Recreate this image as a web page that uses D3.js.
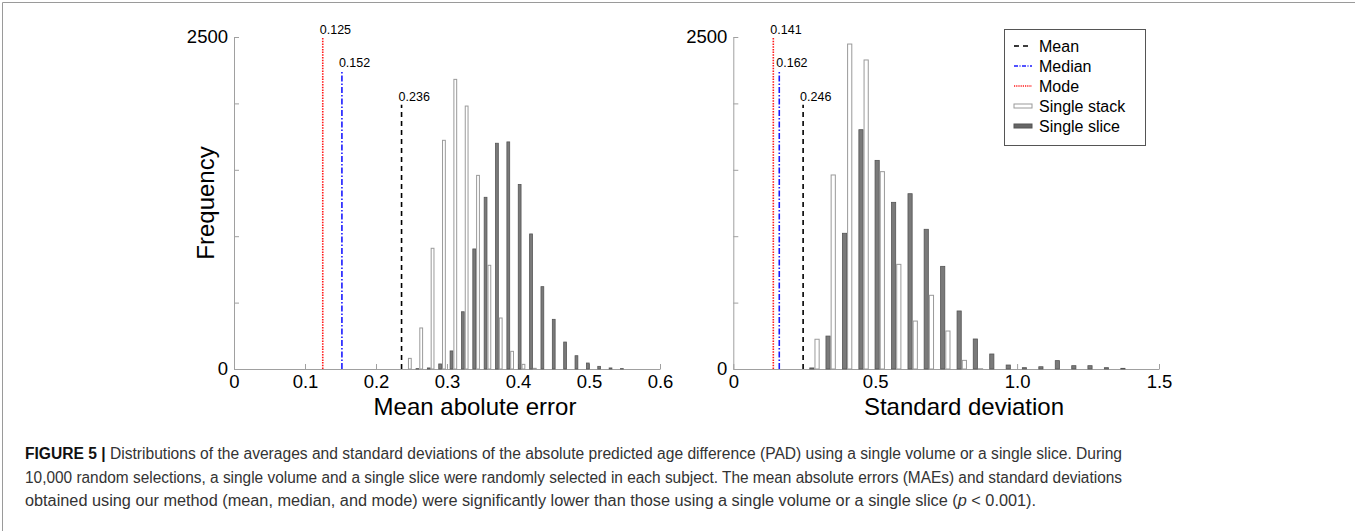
<!DOCTYPE html>
<html>
<head>
<meta charset="utf-8">
<script src="https://cdn.jsdelivr.net/npm/d3@7"></script>
<style>
  body { margin: 0; background: #fff; }
  svg text { font-family: 'Liberation Sans', Arial, sans-serif; }
</style>
</head>
<body>
<div id="figure"></div>
<script>

// ---- data ----
const yTicks = [0, 500, 1000, 1500, 2000, 2500];

// left panel: mean absolute error
const maeTicks = [0, 0.1, 0.2, 0.3, 0.4, 0.5, 0.6];
const maeBins  = [0.245, 0.261, 0.277, 0.293, 0.309, 0.325, 0.341, 0.357, 0.373, 0.389,
                  0.405, 0.421, 0.437, 0.453, 0.469, 0.485, 0.501, 0.517, 0.533, 0.549];
const maeStack = [80, 309, 909, 1722, 2181, 1980, 1458, 781, 384, 133,
                  35, 5, 0, 0, 0, 0, 0, 0, 0, 0];
const maeSlice = [0, 3, 8, 38, 136, 431, 904, 1293, 1700, 1710,
                  1390, 1017, 620, 374, 203, 100, 45, 20, 8, 3];
const maeStats = [
  {name: 'Mode',   value: 0.125, top: 2500},
  {name: 'Median', value: 0.152, top: 2250},
  {name: 'Mean',   value: 0.236, top: 1990}
];

// right panel: standard deviation
const sdTicks = [0, 0.5, 1.0, 1.5];
const sdBins  = [0.286, 0.343, 0.401, 0.459, 0.516, 0.574, 0.632, 0.689, 0.747, 0.805,
                 0.862, 0.920, 0.978, 1.035, 1.093, 1.151, 1.209, 1.266, 1.324, 1.382];
const sdStack = [224, 1461, 2447, 2327, 1486, 788, 361, 555, 286, 65,
                 2, 0, 0, 0, 0, 0, 0, 0, 0, 0];
const sdSlice = [8, 248, 1022, 1802, 1571, 1255, 1320, 1052, 773, 437,
                 226, 113, 30, 10, 17, 63, 25, 25, 10, 5];
const sdStats = [
  {name: 'Mode',   value: 0.141, top: 2500},
  {name: 'Median', value: 0.162, top: 2250},
  {name: 'Mean',   value: 0.246, top: 1990}
];

const legendItems = ['Mean', 'Median', 'Mode', 'Single stack', 'Single slice'];

const captionLines = [
  'Distributions of the averages and standard deviations of the absolute predicted age difference (PAD) using a single volume or a single slice. During',
  '10,000 random selections, a single volume and a single slice were randomly selected in each subject. The mean absolute errors (MAEs) and standard deviations',
  'obtained using our method (mean, median, and mode) were significantly lower than those using a single volume or a single slice ('
];

const lineStyle = {
  Mean:   {color: '#000', dash: '5,4'},
  Median: {color: '#1a1aff', dash: '6,2,1.5,2'},
  Mode:   {color: '#ff1a1a', dash: '1.5,1.2'}
};

const svg = d3.select('#figure').append('svg')
  .attr('width', 1355)
  .attr('height', 531);

// figure frame (top + left edges visible)
svg.append('path')
  .attr('d', 'M2.5,540 V2.5 H1360')
  .attr('fill', 'none')
  .attr('stroke', '#9a9a9a')
  .attr('stroke-width', 1);

Histogram = {

  yRange: [369, 37],

  draw: function(opts) {
    const x = d3.scaleLinear().domain(opts.domain).range(opts.range);
    const y = d3.scaleLinear().domain([0, 2500]).range(this.yRange);
    const g = svg.append('g');

    // axes
    const xAxis = d3.axisBottom(x)
      .tickValues(opts.ticks)
      .tickFormat((d) => d === 0 ? '0' : d3.format('.1f')(d))
      .tickSizeInner(-5).tickSizeOuter(0).tickPadding(6);
    const yAxis = d3.axisLeft(y)
      .tickValues(yTicks)
      .tickFormat((d) => (d === 0 || d === 2500) ? d : '')
      .tickSizeInner(-5).tickSizeOuter(0).tickPadding(6);

    const xg = g.append('g').attr('transform', `translate(0, ${this.yRange[0]})`).call(xAxis);
    const yg = g.append('g').attr('transform', `translate(${opts.range[0]}, 0)`).call(yAxis);
    [xg, yg].forEach((a) => {
      a.selectAll('path, line').attr('stroke', '#a0a0a0');
      a.selectAll('text').attr('font-size', '18.5px').attr('fill', '#000');
    });

    // stat lines
    opts.stats.forEach((s) => {
      g.append('line')
        .attr('x1', x(s.value)).attr('x2', x(s.value))
        .attr('y1', y(0)).attr('y2', y(s.top))
        .attr('stroke', lineStyle[s.name].color)
        .attr('stroke-width', 1.6)
        .attr('stroke-dasharray', lineStyle[s.name].dash);
      g.append('text')
        .attr('x', x(s.value) - 3)
        .attr('y', y(s.top) - 3.5)
        .attr('font-size', '12.5px')
        .text(d3.format('.3f')(s.value));
    });

    // grouped bars: slice (dark) left of bin centre, stack (white) right
    const step = x(opts.bins[1]) - x(opts.bins[0]);
    const bw = step * 0.29;
    const rows = opts.bins.map((b, i) => ({b: b, stack: opts.stack[i], slice: opts.slice[i]}));

    g.selectAll('rect.slice')
      .data(rows.filter((d) => d.slice > 0))
      .enter().append('rect')
      .attr('class', 'slice')
      .attr('x', (d) => x(d.b) - bw)
      .attr('y', (d) => y(d.slice))
      .attr('width', bw - 0.5)
      .attr('height', (d) => y(0) - y(d.slice))
      .attr('fill', '#7a7a7a')
      .attr('stroke', '#555')
      .attr('stroke-width', 0.8);

    g.selectAll('rect.stack')
      .data(rows.filter((d) => d.stack > 0))
      .enter().append('rect')
      .attr('class', 'stack')
      .attr('x', (d) => x(d.b) + 0.5)
      .attr('y', (d) => y(d.stack))
      .attr('width', bw - 0.5)
      .attr('height', (d) => y(0) - y(d.stack))
      .attr('fill', '#fff')
      .attr('stroke', '#9a9a9a')
      .attr('stroke-width', 1);

    // titles
    g.append('text')
      .attr('x', opts.titleX)
      .attr('y', 415)
      .attr('text-anchor', 'middle')
      .attr('font-size', '24px')
      .text(opts.title);

    if (opts.yLabel) {
      g.append('text')
        .attr('transform', `translate(214, ${(this.yRange[0] + this.yRange[1]) / 2}) rotate(-90)`)
        .attr('text-anchor', 'middle')
        .attr('font-size', '24px')
        .text(opts.yLabel);
    }
  }
};

Histogram.draw({
  domain: [0, 0.6], range: [234, 660], ticks: maeTicks,
  bins: maeBins, stack: maeStack, slice: maeSlice, stats: maeStats,
  title: 'Mean abolute error', titleX: 475, yLabel: 'Frequency'
});

Histogram.draw({
  domain: [0, 1.5], range: [733.3, 1159], ticks: sdTicks,
  bins: sdBins, stack: sdStack, slice: sdSlice, stats: sdStats,
  title: 'Standard deviation', titleX: 964
});

// legend
const legend = svg.append('g').attr('transform', 'translate(1004, 29)');
legend.append('rect')
  .attr('x', 0.5).attr('y', 0.5)
  .attr('width', 141).attr('height', 116)
  .attr('fill', '#fff')
  .attr('stroke', '#555');

legendItems.forEach((name, i) => {
  const cy = 17 + i * 20;
  if (lineStyle[name]) {
    legend.append('line')
      .attr('x1', 10).attr('x2', 28)
      .attr('y1', cy).attr('y2', cy)
      .attr('stroke', lineStyle[name].color)
      .attr('stroke-width', 1.6)
      .attr('stroke-dasharray', name === 'Mean' ? '5,4' : name === 'Median' ? '4,1.5,1,1.5' : '1.2,1');
  } else {
    legend.append('rect')
      .attr('x', 10).attr('y', cy - 2)
      .attr('width', 18).attr('height', 4)
      .attr('fill', name === 'Single slice' ? '#666' : '#fff')
      .attr('stroke', name === 'Single slice' ? '#555' : '#9a9a9a');
  }
  legend.append('text')
    .attr('x', 35).attr('y', cy + 5.5)
    .attr('font-size', '16px')
    .text(name);
});

// caption
const caption = svg.append('g').attr('font-family', "'Liberation Sans Narrow', 'Liberation Sans', Arial, sans-serif");
const widths = [1097, 1097, 1011];
captionLines.forEach((line, i) => {
  const t = caption.append('text')
    .attr('x', 25)
    .attr('y', 459 + i * 23.5)
    .attr('font-size', '16px')
    .attr('fill', '#333')
    .attr('textLength', widths[i])
    .attr('lengthAdjust', 'spacingAndGlyphs');
  if (i === 0) {
    t.append('tspan').attr('font-weight', 'bold').attr('fill', '#111').text('FIGURE 5 | ');
  }
  t.append('tspan').text(line);
  if (i === 2) {
    t.append('tspan').attr('font-style', 'italic').text('p');
    t.append('tspan').text(' < 0.001).');
  }
});

</script>
</body>
</html>
